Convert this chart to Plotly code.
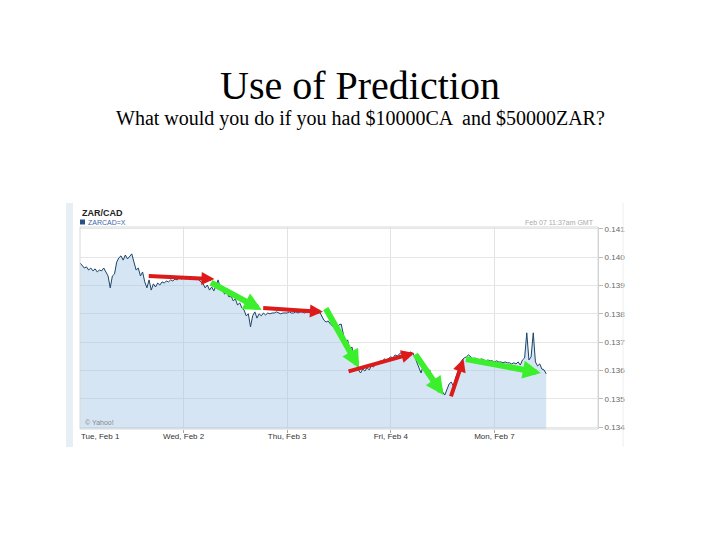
import plotly.graph_objects as go

# ---- data ----
step_days = 1 / 48  # half-hour samples, Tue Feb 1 00:00 -> Mon Feb 7 ~12:00 (weekend skipped)
rate = [
    0.13980, 0.13969, 0.13962, 0.13966, 0.13955, 0.13962, 0.13952, 0.13959, 0.13948, 0.13955,
    0.13952, 0.13962, 0.13945, 0.13934, 0.13892, 0.13934, 0.13941, 0.13983, 0.13998, 0.14005,
    0.13990, 0.14008, 0.13994, 0.14005, 0.14012, 0.13983, 0.13955, 0.13962, 0.13934, 0.13948,
    0.13913, 0.13892, 0.13920, 0.13884, 0.13906, 0.13895, 0.13909, 0.13902, 0.13913, 0.13909,
    0.13916, 0.13913, 0.13920, 0.13916, 0.13923, 0.13920, 0.13927, 0.13923, 0.13930, 0.13923,
    0.13927, 0.13920, 0.13927, 0.13923, 0.13927, 0.13920, 0.13913, 0.13906, 0.13892, 0.13902,
    0.13884, 0.13895, 0.13881, 0.13899, 0.13920, 0.13892, 0.13884, 0.13870, 0.13877, 0.13860,
    0.13863, 0.13846, 0.13853, 0.13831, 0.13839, 0.13821, 0.13814, 0.13793, 0.13800, 0.13754,
    0.13793, 0.13807, 0.13785, 0.13800, 0.13793, 0.13803, 0.13796,
    0.13803, 0.13800, 0.13803, 0.13803, 0.13807, 0.13803, 0.13800, 0.13803, 0.13803, 0.13803,
    0.13807, 0.13803, 0.13803, 0.13807, 0.13803, 0.13807, 0.13807, 0.13803, 0.13807, 0.13807,
    0.13810, 0.13807, 0.13807, 0.13803, 0.13807,
    0.13793, 0.13778, 0.13771, 0.13775, 0.13764, 0.13757, 0.13764, 0.13750, 0.13761, 0.13764,
    0.13729, 0.13697, 0.13708, 0.13672, 0.13683, 0.13644, 0.13630, 0.13602, 0.13591, 0.13605,
    0.13598, 0.13609, 0.13602, 0.13616, 0.13612, 0.13627, 0.13623, 0.13634, 0.13630, 0.13641,
    0.13637, 0.13644, 0.13648, 0.13644, 0.13655, 0.13651, 0.13658, 0.13665, 0.13655, 0.13662,
    0.13658, 0.13665, 0.13662, 0.13651, 0.13630, 0.13609, 0.13591, 0.13616, 0.13595, 0.13581,
    0.13602, 0.13573, 0.13552, 0.13563, 0.13538, 0.13545, 0.13524, 0.13513, 0.13531, 0.13552,
    0.13559, 0.13545, 0.13573, 0.13595, 0.13616, 0.13637, 0.13644, 0.13648, 0.13655, 0.13648,
    0.13641, 0.13644, 0.13641, 0.13637, 0.13641, 0.13637, 0.13634, 0.13637, 0.13634, 0.13634,
    0.13630, 0.13634, 0.13630, 0.13630, 0.13627, 0.13630, 0.13627, 0.13627, 0.13623, 0.13627,
    0.13623, 0.13630, 0.13619, 0.13637, 0.13644, 0.13733, 0.13637, 0.13648, 0.13733, 0.13630,
    0.13616, 0.13623, 0.13605, 0.13602, 0.13588,
]
time_days = [i * step_days for i in range(len(rate))]

day_ticks = [0, 1, 2, 3, 4]
day_labels = ["Tue, Feb 1", "Wed, Feb 2", "Thu, Feb 3", "Fri, Feb 4", "Mon, Feb 7"]
y_ticks = [0.134, 0.135, 0.136, 0.137, 0.138, 0.139, 0.140, 0.141]
y_labels = ["0.134", "0.135", "0.136", "0.137", "0.138", "0.139", "0.140", "0.141"]

# prediction arrows: start/end in data coordinates
arrow_x0 = [0.649, 1.250, 1.754, 2.364, 2.578, 3.227, 3.576, 3.711]
arrow_y0 = [0.13934, 0.13913, 0.13821, 0.13824, 0.13595, 0.13662, 0.13503, 0.13641]
arrow_x1 = [1.298, 1.754, 2.345, 2.694, 3.227, 3.508, 3.702, 4.448]
arrow_y1 = [0.13923, 0.13814, 0.13807, 0.13609, 0.13662, 0.13513, 0.13641, 0.13591]
arrow_kind = ["up", "down", "up", "down", "up", "down", "up", "down"]

# ---- layout geometry (target window pixels; page body has an 8px margin) ----
OFF = 8
W, H = 720 - OFF, 540 - OFF
L, R, T, B = 80, 598, 227, 429


def px(x):
    return (x - L) / (R - L)


def py(y):
    return (B - y) / (B - T)


fig = go.Figure()
fig.add_trace(go.Scatter(
    x=time_days, y=rate, mode="lines",
    line=dict(color="#1c4468", width=1),
    fill="tozeroy", fillcolor="rgba(165,198,228,0.45)",
    showlegend=False, hoverinfo="skip",
))

annotations = []
for x0, y0, x1, y1, k in zip(arrow_x0, arrow_y0, arrow_x1, arrow_y1, arrow_kind):
    red = k == "up"
    annotations.append(dict(
        x=x1, y=y1, ax=x0, ay=y0, xref="x", yref="y", axref="x", ayref="y",
        showarrow=True, text="", arrowhead=2, arrowsize=0.65 if red else 0.6,
        arrowwidth=4 if red else 6,
        arrowcolor="#dd1a1a" if red else "#3cef2c",
        standoff=0, startstandoff=0,
    ))

annotations.append(dict(x=px(79), y=py(436), xref="paper", yref="paper", text="Tue, Feb 1",
                        showarrow=False, xanchor="left", yanchor="middle",
                        font=dict(family="Liberation Sans, Arial", size=8, color="#333")))
annotations += [
    dict(x=px(80), y=py(213), xref="paper", yref="paper", text="<b>ZAR/CAD</b>", showarrow=False,
         xanchor="left", yanchor="middle", font=dict(family="Liberation Sans, Arial", size=9, color="#222")),
    dict(x=px(86), y=py(222), xref="paper", yref="paper", text="ZARCAD=X", showarrow=False,
         xanchor="left", yanchor="middle", font=dict(family="Liberation Sans, Arial", size=7, color="#3a64a8")),
    dict(x=px(596), y=py(222), xref="paper", yref="paper", text="Feb 07 11:37am GMT", showarrow=False,
         xanchor="right", yanchor="middle", font=dict(family="Liberation Sans, Arial", size=7, color="#aaa")),
    dict(x=px(83), y=py(422), xref="paper", yref="paper", text="© Yahoo!", showarrow=False,
         xanchor="left", yanchor="middle", font=dict(family="Liberation Sans, Arial", size=7, color="#888")),
    dict(x=px(360), xref="paper", y=py(85), yref="paper", text="Use of Prediction", showarrow=False,
         xanchor="center", yanchor="middle",
         font=dict(family="Liberation Serif, Times New Roman", size=40, color="#000")),
    dict(x=px(360), xref="paper", y=py(118), yref="paper",
         text="What would you do if you had $10000CA  and $50000ZAR?", showarrow=False,
         xanchor="center", yanchor="middle",
         font=dict(family="Liberation Serif, Times New Roman", size=20, color="#000")),
]

shapes = [
    dict(type="rect", xref="paper", yref="paper", x0=px(66), x1=px(73), y0=py(447), y1=py(203),
         fillcolor="#e8eef6", line=dict(width=0), layer="below"),
    dict(type="line", xref="paper", yref="paper", x0=px(623), x1=px(623), y0=py(447), y1=py(203),
         line=dict(color="#eeeeee", width=1)),
    dict(type="rect", xref="paper", yref="paper", x0=0, x1=1, y0=0, y1=1,
         line=dict(color="#d8d8d8", width=1)),
    dict(type="rect", xref="paper", yref="paper", x0=px(80), x1=px(85), y0=py(224.5), y1=py(219.5),
         fillcolor="#2a5088", line=dict(width=0)),
]

fig.update_layout(
    width=W, height=H,
    margin=dict(l=L - OFF, r=720 - R, t=T - OFF, b=540 - B),
    paper_bgcolor="white", plot_bgcolor="white",
    annotations=annotations, shapes=shapes,
    xaxis=dict(range=[0, 5], tickvals=day_ticks[1:], ticktext=day_labels[1:],
               showgrid=True, gridcolor="#e2e2e2", gridwidth=1, zeroline=False,
               ticks="outside", ticklen=3, tickcolor="#aaa", ticklabelstandoff=-4,
               tickfont=dict(family="Liberation Sans, Arial", size=8, color="#333"),
               showline=False, fixedrange=True),
    yaxis=dict(range=[0.13393, 0.14107], side="right", tickvals=y_ticks, ticktext=y_labels,
               showgrid=True, gridcolor="#e6e6e6", zeroline=False,
               ticks="outside", ticklen=4, tickcolor="#bbb",
               tickfont=dict(family="Liberation Sans, Arial", size=8, color="#666"),
               showline=True, linecolor="#cfcfcf", fixedrange=True),
)

fig.write_html("out.html")
